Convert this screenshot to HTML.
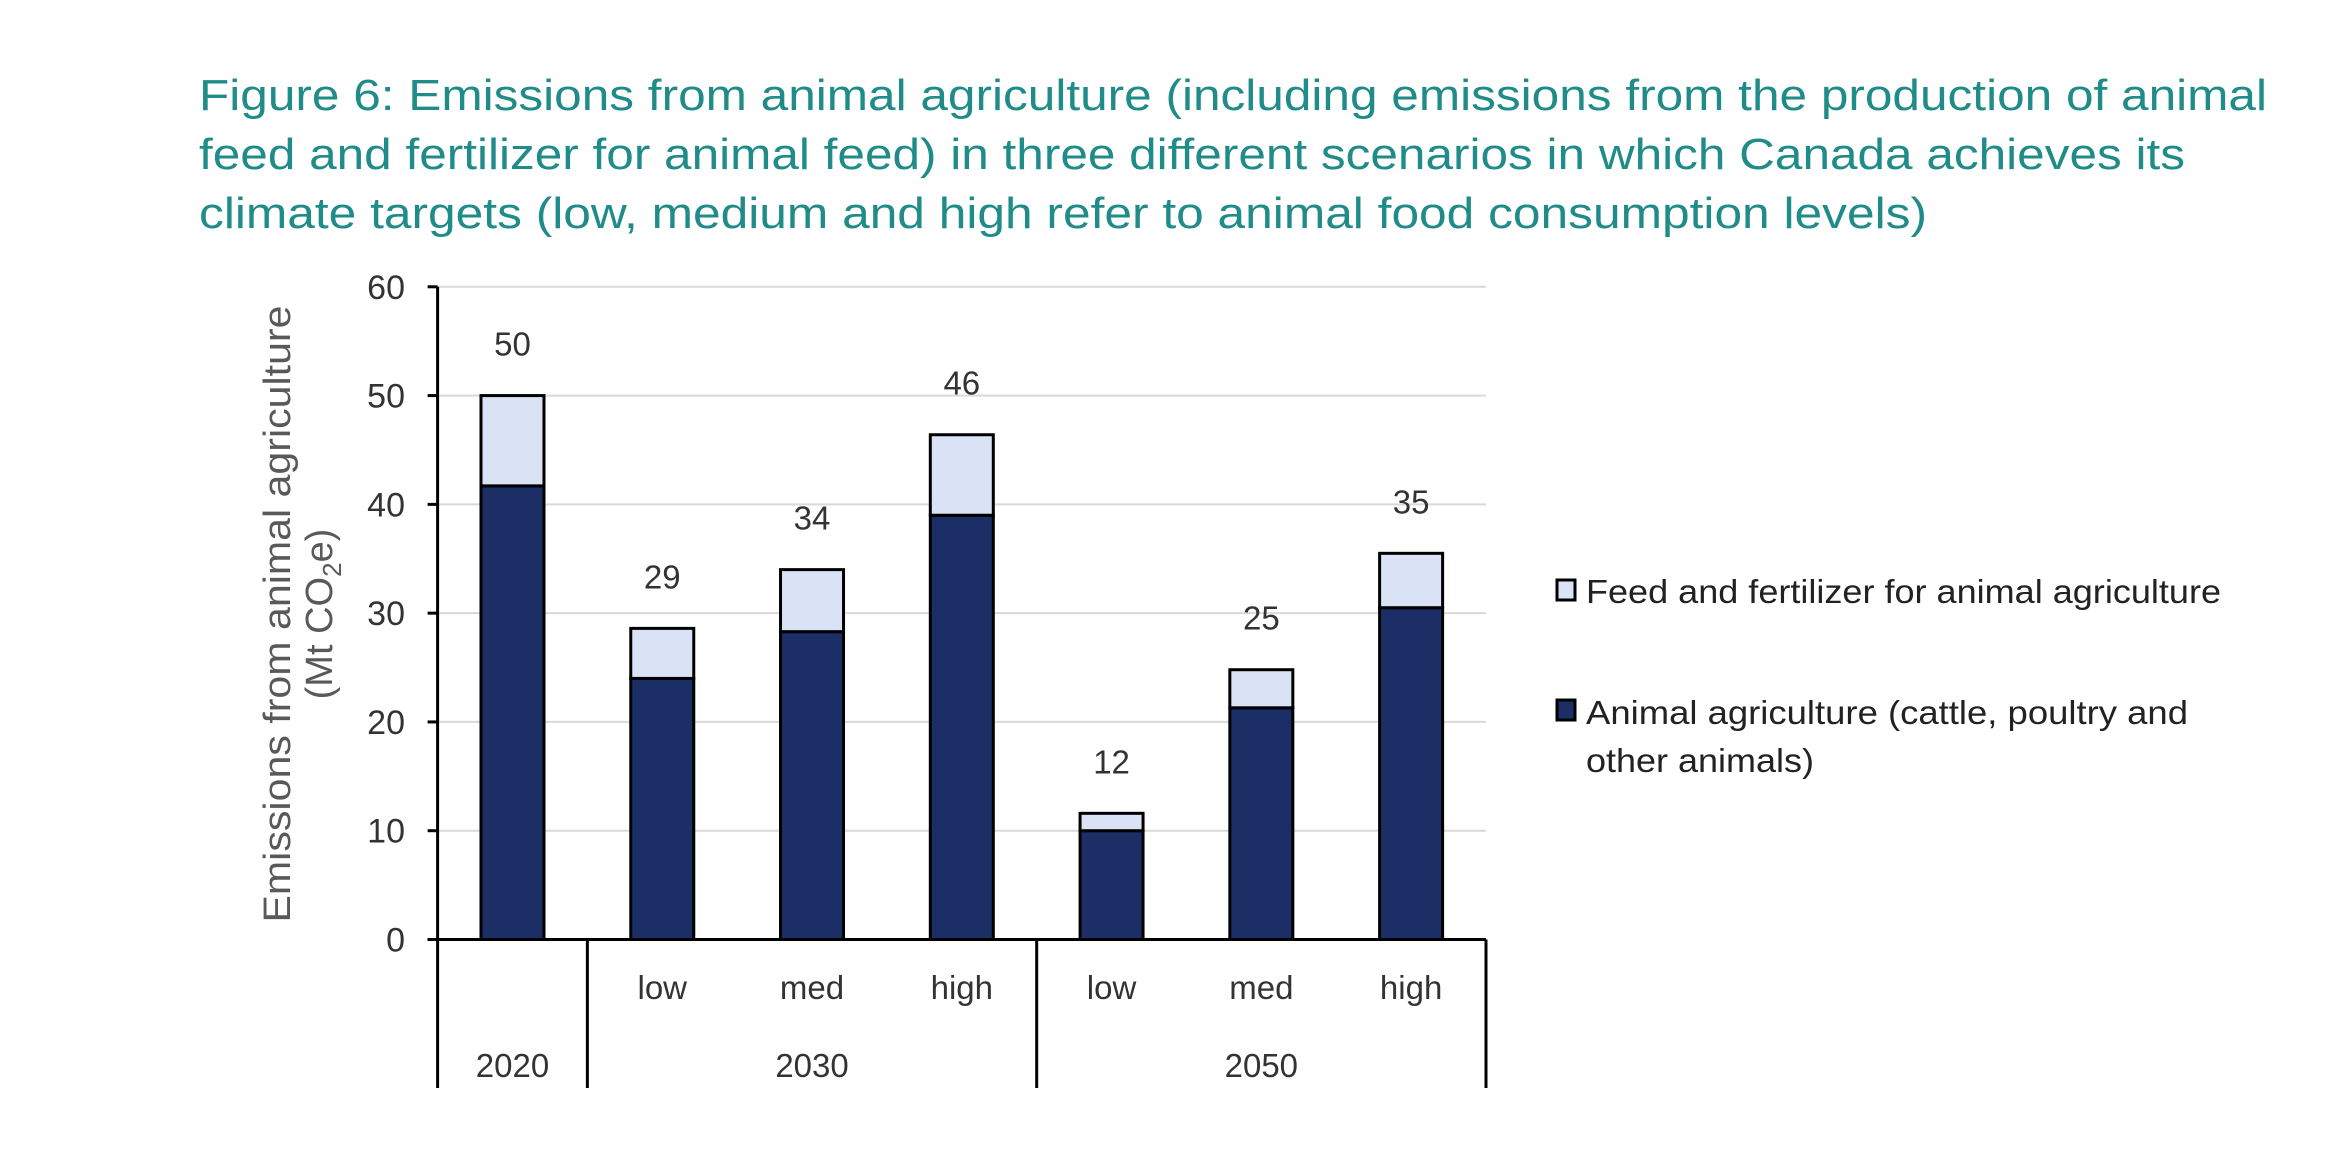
<!DOCTYPE html>
<html><head><meta charset="utf-8"><style>
html,body{margin:0;padding:0;background:#fff;}
svg{display:block;}
text{font-family:"Liberation Sans",sans-serif;}
</style></head><body>
<svg id="chart" width="2330" height="1166" viewBox="0 0 2330 1166" xmlns="http://www.w3.org/2000/svg">
<g fill="#1f8c89" font-size="44">
<text x="199" y="110" textLength="2068" lengthAdjust="spacingAndGlyphs">Figure 6: Emissions from animal agriculture (including emissions from the production of animal</text>
<text x="199" y="169" textLength="1986" lengthAdjust="spacingAndGlyphs">feed and fertilizer for animal feed) in three different scenarios in which Canada achieves its</text>
<text x="199" y="228" textLength="1728" lengthAdjust="spacingAndGlyphs">climate targets (low, medium and high refer to animal food consumption levels)</text>
</g>
<g id="grid"></g>
<g id="bars"></g>
<g id="axes"></g>
<g fill="#595959" font-size="38">
<text transform="translate(290,614) rotate(-90)" text-anchor="middle" textLength="617" lengthAdjust="spacingAndGlyphs">Emissions from animal agriculture</text>
<text transform="translate(332,614) rotate(-90)" text-anchor="middle">(Mt CO<tspan font-size="26" dy="9">2</tspan><tspan dy="-9">e)</tspan></text>
</g>
<g font-size="33" fill="#222">
<g>
<rect x="1557" y="580" width="18" height="20" fill="#dae3f5" stroke="#000" stroke-width="3"/>
<text x="1586" y="603" textLength="635" lengthAdjust="spacingAndGlyphs">Feed and fertilizer for animal agriculture</text>
</g>
<g>
<rect x="1557" y="700" width="18" height="20" fill="#1b2f66" stroke="#000" stroke-width="3"/>
<text x="1586" y="724" textLength="602" lengthAdjust="spacingAndGlyphs">Animal agriculture (cattle, poultry and</text>
<text x="1586" y="772" textLength="228" lengthAdjust="spacingAndGlyphs">other animals)</text>
</g>
</g>
</svg>
<script>
const categories=["2020","low","med","high","low","med","high"];
const groups=["2020","2030","2050"];
const animalValues=[41.7,24.0,28.3,39.0,10.0,21.3,30.5];
const feedValues=[8.3,4.6,5.7,7.4,1.6,3.5,5.0];
const totalLabels=["50","29","34","46","12","25","35"];
const yTicks=[0,10,20,30,40,50,60];
const NS="http://www.w3.org/2000/svg";
const X0=437.6,X1=1486,Y0=939.5,Y60=286.8;
function y(v){return Y0-(v/60)*(Y0-Y60);}
const step=(X1-X0)/categories.length;
function xc(i){return X0+step*(i+0.5);}
const BW=63;
function mk(tag,attrs,parent){const e=document.createElementNS(NS,tag);for(const k in attrs)e.setAttribute(k,attrs[k]);parent.appendChild(e);return e;}
const grid=document.getElementById('grid'),bars=document.getElementById('bars'),axes=document.getElementById('axes');
yTicks.forEach(t=>{
 if(t>0){const l=mk('line',{x1:X0,x2:X1,y1:y(t),y2:y(t),stroke:'#d9d9d9','stroke-width':2},grid);
 
 }
 const tk=mk('line',{x1:X0-10,x2:X0,y1:y(t),y2:y(t),stroke:'#000','stroke-width':3},axes);
 
 
 const tx=mk('text',{x:405,y:y(t)+12,'text-anchor':'end','font-size':34,fill:'#333'},axes);
 tx.textContent=t;
 
 
});
categories.forEach((c,i)=>{
 const a=animalValues[i],f=feedValues[i];
 const r1=mk('rect',{x:xc(i)-BW/2,y:y(a),width:BW,height:Y0-y(a),fill:'#1b2f66',stroke:'#000','stroke-width':3},bars);
 
 
 const r2=mk('rect',{x:xc(i)-BW/2,y:y(a+f),width:BW,height:y(a)-y(a+f),fill:'#dae3f5',stroke:'#000','stroke-width':3},bars);
 
 
 const lb=mk('text',{x:xc(i),y:y(a+f)-40,'text-anchor':'middle','font-size':33,fill:'#333'},bars);
 lb.textContent=totalLabels[i];
 
 
 if(i>0){const cl=mk('text',{x:xc(i),y:999,'text-anchor':'middle','font-size':33,fill:'#333'},axes);
 cl.textContent=c;
 
 }
});
const groupSpans=[[0,1],[1,4],[4,7]];
groups.forEach((g,k)=>{
 const s=groupSpans[k];
 const gt=mk('text',{x:(X0+step*s[0]+X0+step*s[1])/2,y:1077,'text-anchor':'middle','font-size':33,fill:'#333'},axes);
 gt.textContent=g;
 
 
});
[0,1,4,7].forEach(i=>{
 const d=mk('line',{x1:X0+step*i,x2:X0+step*i,y1:Y0,y2:1088,stroke:'#000','stroke-width':3},axes);
 
 
});
const ya=mk('line',{x1:X0,x2:X0,y1:Y60,y2:Y0,stroke:'#000','stroke-width':3},axes);


const xa=mk('line',{x1:X0-10,x2:X1,y1:Y0,y2:Y0,stroke:'#000','stroke-width':3},axes);


</script>
</body></html>
